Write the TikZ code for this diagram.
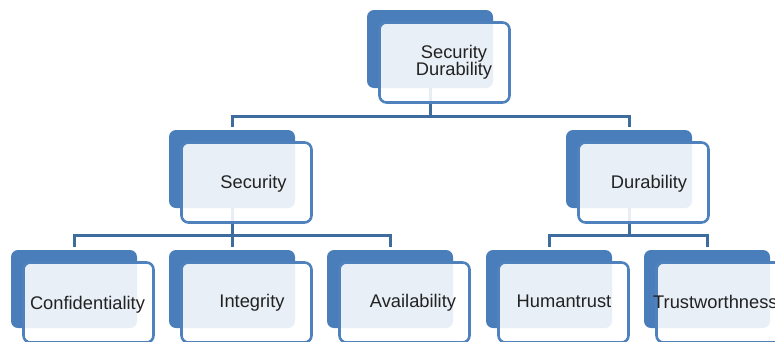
\documentclass[tikz,border=0pt]{standalone}
\usepackage{fontspec}
\setmainfont{Liberation Sans}
\definecolor{accA}{HTML}{4A7EBB}
\definecolor{accC}{HTML}{4F81BD}
\definecolor{connc}{HTML}{3F6C9F}
\definecolor{txtc}{HTML}{222222}
\begin{document}
\begin{tikzpicture}[x=1pt,y=-1pt,
  backbox/.style={fill=accA, draw=none, rounded corners=7pt, minimum width=126pt,
    minimum height=78pt, inner sep=0pt, outer sep=0pt, anchor=north west},
  frontbox/.style={draw=accC, line width=2.6pt, fill=white, fill opacity=0.88,
    draw opacity=1, rounded corners=7pt, minimum width=130pt, minimum height=80pt,
    inner sep=0pt, outer sep=0pt, anchor=north west},
  conn/.style={draw=connc, line width=3pt},
  lbl/.style={text=txtc, inner sep=0pt, font=\fontsize{18.3}{13.3}\selectfont}]
\useasboundingbox (0,0) rectangle (775,341);
\coordinate (lv1) at (0,116);
\coordinate (lv2) at (0,235);
% back boxes
\node[backbox] (topA) at (367,10) {};
\node[backbox] (secA) at (169,130) {};
\node[backbox] (durA) at (566,130) {};
\node[backbox] (confA) at (11,250) {};
\node[backbox] (integA) at (169,250) {};
\node[backbox] (availA) at (327,250) {};
\node[backbox] (humA) at (486,250) {};
\node[backbox] (trustA) at (644,250) {};
% connectors
\draw[conn] (topA.south) -- (topA.south |- lv1);
\draw[conn] ([yshift=3pt]secA.north) |- (topA.south |- lv1) -| ([yshift=3pt]durA.north);
\draw[conn] (secA.south) -- (secA.south |- lv2);
\draw[conn] ([yshift=3pt]confA.north) |- (secA.south |- lv2) -| ([yshift=3pt]availA.north);
\draw[conn] ([yshift=3pt]integA.north) -- (integA.north |- lv2);
\draw[conn] (durA.south) -- (durA.south |- lv2);
\draw[conn] ([yshift=3pt]humA.north) |- (durA.south |- lv2) -| ([yshift=3pt]trustA.north);
% front boxes
\foreach \n in {topA,secA,durA,confA,integA,availA,humA,trustA}{
  \node[frontbox] (\n-f) at ([xshift=12.5pt,yshift=-12.5pt]\n.north west) {};
}
% labels
\node[lbl, align=center] (topT) at (454,62) {Security\\[-1pt]Durability};
\node[lbl, anchor=base] (secT) at (253.5,188) {Security};
\node[lbl, anchor=base] (durT) at (649,188) {Durability};
\node[lbl, anchor=base] (confT) at (87.5,309) {Confidentiality};
\node[lbl, anchor=base] (integT) at (252,307) {Integrity};
\node[lbl, anchor=base] (availT) at (413,307) {Availability};
\node[lbl, anchor=base] (humT) at (564,307) {Humantrust};
\node[lbl, anchor=base west] (trustT) at (653,308) {Trustworthness};
\end{tikzpicture}
\end{document}
